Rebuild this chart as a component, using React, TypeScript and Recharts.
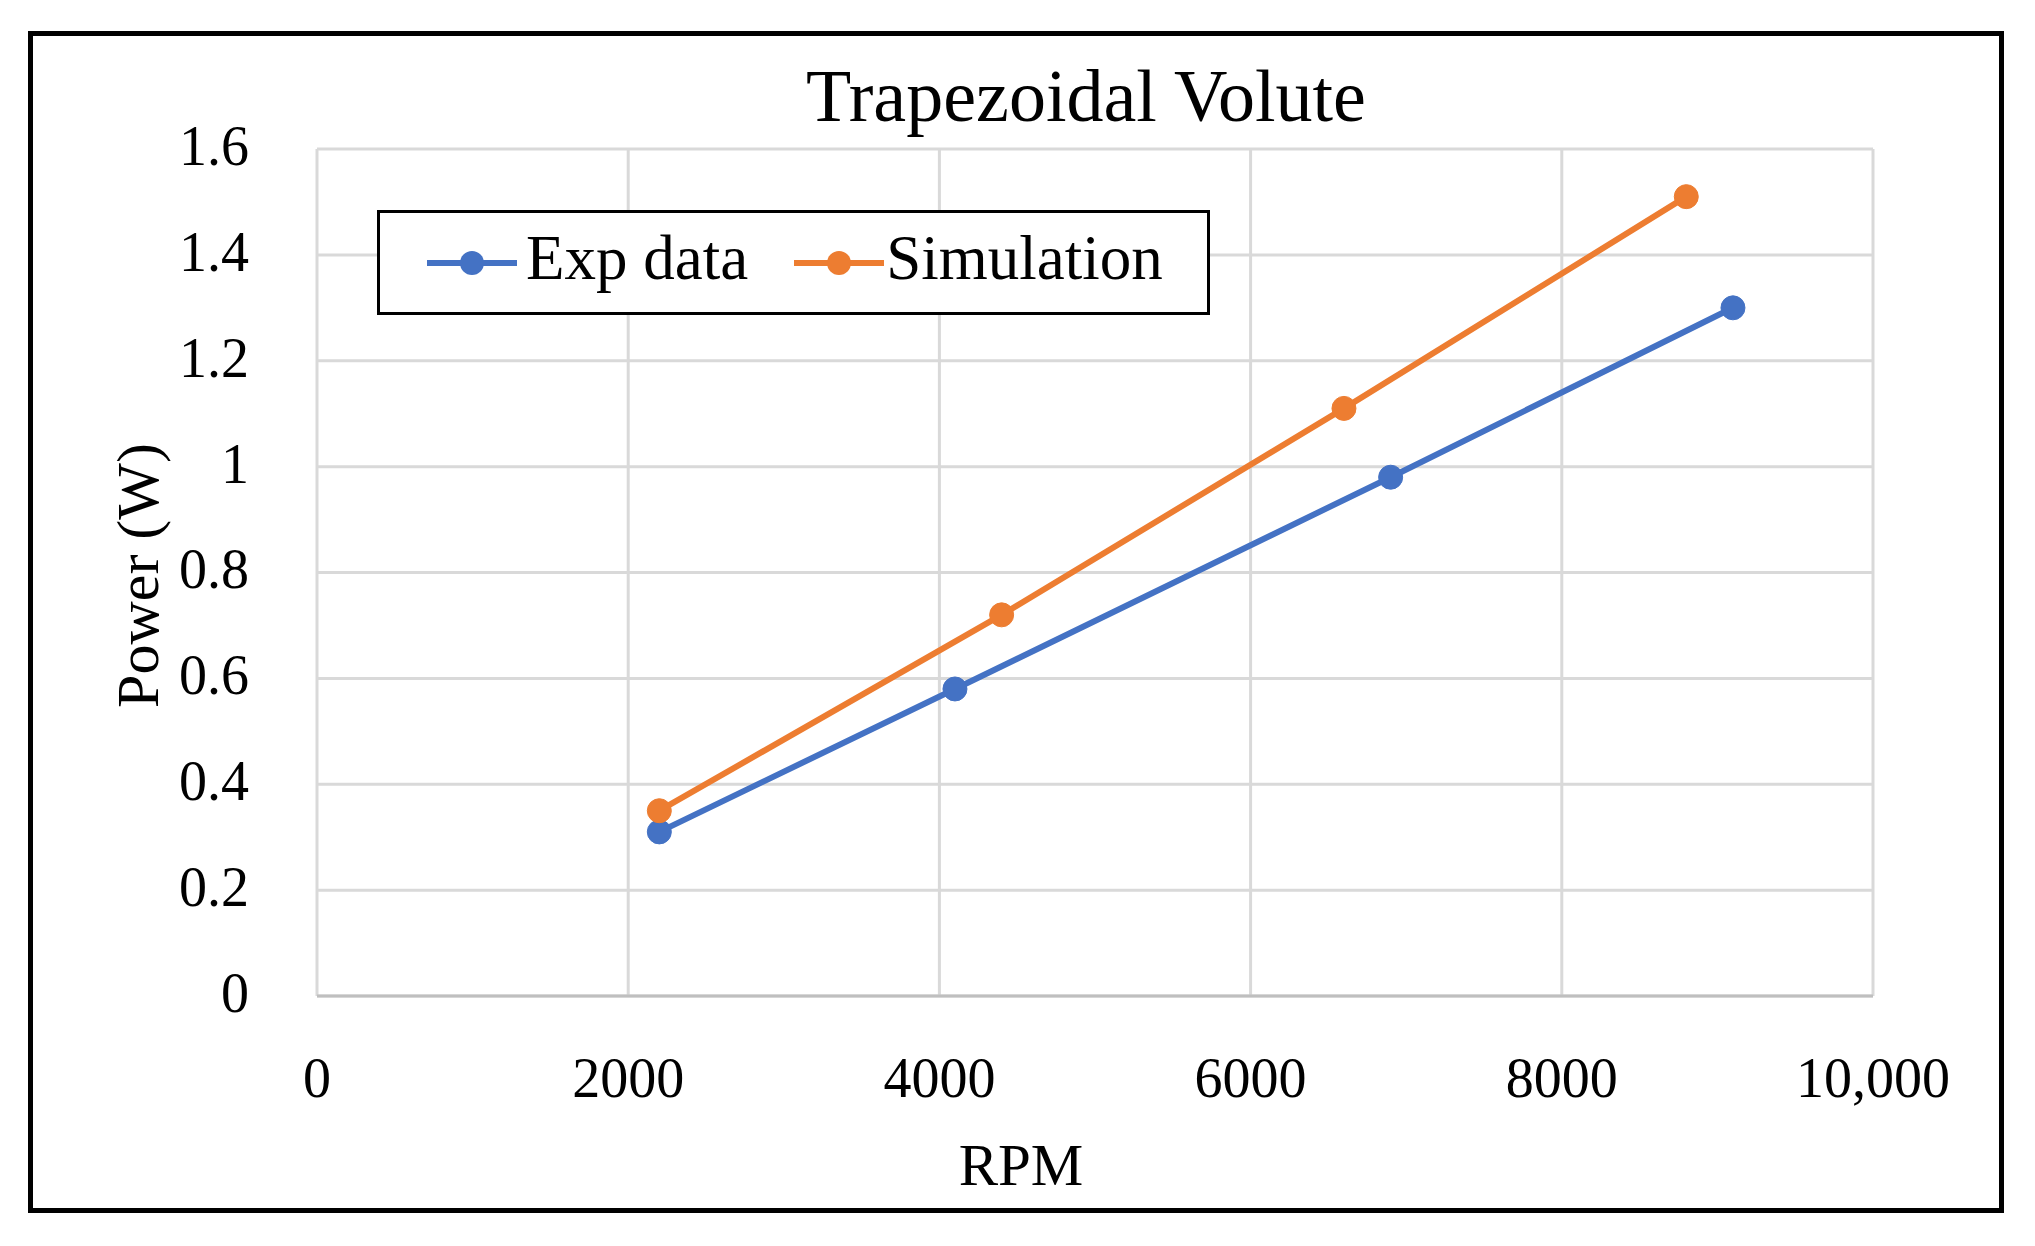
import { CartesianGrid, Legend, Line, LineChart, XAxis, YAxis } from "recharts";

// RPM vs power
const expRpm = [2200, 4100, 6900, 9100];
const expPower = [0.31, 0.58, 0.98, 1.3];
const simRpm = [2200, 4400, 6600, 8800];
const simPower = [0.35, 0.72, 1.11, 1.51];

const xTicks = [0, 2000, 4000, 6000, 8000, 10000];
const yTicks = [0, 0.2, 0.4, 0.6, 0.8, 1, 1.2, 1.4, 1.6];

const expData = expRpm.map((rpm, i) => ({ rpm, power: expPower[i] }));
const simData = simRpm.map((rpm, i) => ({ rpm, power: simPower[i] }));

const FONT = '"Liberation Serif", "Times New Roman", serif';
const BLUE = "#4472C4";
const ORANGE = "#ED7D31";

function LegendIcon({ color }: { color: string }) {
  return (
    <svg width={90} height={30} style={{ display: "block" }}>
      <line x1={0} y1={15} x2={90} y2={15} stroke={color} strokeWidth={6} />
      <circle cx={45} cy={15} r={12} fill={color} />
    </svg>
  );
}

function renderLegend() {
  return (
    <div
      style={{
        width: 833,
        height: 105,
        border: "3px solid #000",
        boxSizing: "border-box",
        background: "#fff",
        display: "flex",
        alignItems: "center",
        paddingLeft: 47,
        fontFamily: FONT,
        fontSize: 63,
        color: "#000",
      }}
    >
      <LegendIcon color={BLUE} />
      <span style={{ marginLeft: 9, lineHeight: "63px", position: "relative", top: -4 }}>Exp data</span>
      <span style={{ width: 46 }} />
      <LegendIcon color={ORANGE} />
      <span style={{ marginLeft: 2, lineHeight: "63px", position: "relative", top: -4 }}>Simulation</span>
    </div>
  );
}

export default function App() {
  return (
    <div style={{ position: "relative", width: 2035, height: 1246, background: "#fff" }}>
      <style>{`body{margin:0}`}</style>
      <div
        style={{
          position: "absolute",
          left: 28,
          top: 31,
          width: 1976,
          height: 1182,
          border: "5px solid #000",
          boxSizing: "border-box",
        }}
      />
      <div
        style={{
          position: "absolute",
          left: 0,
          width: 2172,
          top: 59,
          textAlign: "center",
          fontFamily: FONT,
          fontSize: 74,
          lineHeight: 1,
          color: "#000",
        }}
      >
        Trapezoidal Volute
      </div>
      <LineChart width={2035} height={1246} margin={{ top: 149, right: 162, bottom: 100, left: 117 }}>
        <CartesianGrid stroke="#d9d9d9" strokeWidth={3} />
        <XAxis
          type="number"
          dataKey="rpm"
          domain={[0, 10000]}
          ticks={xTicks}
          tickFormatter={(v) => (v >= 10000 ? v.toLocaleString("en-US") : String(v))}
          height={150}
          tickLine={false}
          tickMargin={55}
          axisLine={{ stroke: "#bfbfbf", strokeWidth: 3 }}
          tick={{ fontFamily: FONT, fontSize: 56, fill: "#000" }}
          label={{
            content: ({ viewBox }: any) => (
              <text
                x={viewBox.x + viewBox.width / 2 - 74}
                y={viewBox.y + 189}
                textAnchor="middle"
                fontFamily={FONT}
                fontSize={59}
                fill="#000"
              >
                RPM
              </text>
            ),
          }}
        />
        <YAxis
          type="number"
          domain={[0, 1.6]}
          ticks={yTicks}
          width={200}
          tickLine={false}
          tickMargin={62}
          axisLine={false}
          tick={{ fontFamily: FONT, fontSize: 56, fill: "#000", dy: -4 }}
          label={{
            content: ({ viewBox }: any) => {
              const x = viewBox.x + 41;
              const y = viewBox.y + viewBox.height / 2 + 3;
              return (
                <text
                  x={x}
                  y={y}
                  transform={`rotate(-90 ${x} ${y})`}
                  textAnchor="middle"
                  fontFamily={FONT}
                  fontSize={60}
                  fill="#000"
                >
                  Power (W)
                </text>
              );
            },
          }}
        />
        <Legend
          content={renderLegend}
          layout="horizontal"
          align="center"
          verticalAlign="middle"
          wrapperStyle={{ left: 377, top: 210, width: 833, height: 105 }}
        />
        <Line
          data={expData}
          dataKey="power"
          name="Exp data"
          stroke={BLUE}
          strokeWidth={6}
          dot={{ r: 12, fill: BLUE, stroke: BLUE, strokeWidth: 1 }}
          activeDot={false}
          isAnimationActive={false}
        />
        <Line
          data={simData}
          dataKey="power"
          name="Simulation"
          stroke={ORANGE}
          strokeWidth={6}
          dot={{ r: 12, fill: ORANGE, stroke: ORANGE, strokeWidth: 1 }}
          activeDot={false}
          isAnimationActive={false}
        />
      </LineChart>
    </div>
  );
}
